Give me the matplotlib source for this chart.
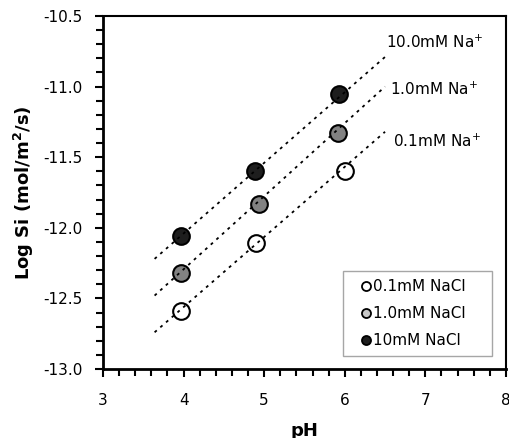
import matplotlib
matplotlib.use("Agg")
import matplotlib.pyplot as plt
from matplotlib.lines import Line2D
from matplotlib.ticker import MultipleLocator, FormatStrFormatter

plt.rcParams["font.family"] = ["DejaVu Sans"]

# measured points (pH, log rate)
ph_01 = [3.97, 4.90, 6.00]
si_01 = [-12.59, -12.11, -11.60]
ph_1 = [3.97, 4.93, 5.92]
si_1 = [-12.32, -11.83, -11.33]
ph_10 = [3.97, 4.88, 5.93]
si_10 = [-12.06, -11.60, -11.05]

# dotted trend lines, end points
fit_x = [3.64, 6.50]
fit_01 = [-12.74, -11.32]
fit_1 = [-12.48, -11.00]
fit_10 = [-12.22, -10.79]

line_labels = ["0.1mM Na$^{+}$", "1.0mM Na$^{+}$", "10.0mM Na$^{+}$"]
legend_labels = ["0.1mM NaCl", "1.0mM NaCl", "10mM NaCl"]

fig = plt.figure(figsize=(5.1, 4.38), dpi=100)
ax = fig.add_axes([0.202, 0.1575, 0.79, 0.806])

for fy in (fit_01, fit_1, fit_10):
    ax.plot(fit_x, fy, color="black", lw=1.3, linestyle=(0, (1.6, 2.6)), zorder=4)

ax.plot(ph_01, si_01, "o", ms=12, mfc="white", mec="black", mew=1.5, zorder=3)
ax.plot(ph_1, si_1, "o", ms=12, mfc="#828282", mec="black", mew=1.5, zorder=3)
ax.plot(ph_10, si_10, "o", ms=12, mfc="#1e1e1e", mec="black", mew=1.5, zorder=3)

ax.text(6.60, -11.39, line_labels[0], fontsize=11, va="center")
ax.text(6.56, -11.02, line_labels[1], fontsize=11, va="center")
ax.text(6.51, -10.69, line_labels[2], fontsize=11, va="center")

ax.set_xlim(3, 8)
ax.set_ylim(-13.0, -10.5)
ax.xaxis.set_major_locator(MultipleLocator(1))
ax.xaxis.set_minor_locator(MultipleLocator(0.2))
ax.yaxis.set_major_locator(MultipleLocator(0.5))
ax.yaxis.set_minor_locator(MultipleLocator(0.1))
ax.yaxis.set_major_formatter(FormatStrFormatter("%.1f"))
ax.tick_params(which="both", direction="out", width=1.5, labelsize=11, color="black")
ax.tick_params(which="major", length=6)
ax.tick_params(which="minor", length=5)
ax.tick_params(axis="x", which="major", pad=11)
ax.tick_params(axis="y", which="major", pad=9)

ax.spines["left"].set_linewidth(2)
ax.spines["bottom"].set_linewidth(2)
ax.spines["top"].set_linewidth(1.5)
ax.spines["right"].set_linewidth(1.5)

ax.set_xlabel("pH", fontsize=13, fontweight="bold", labelpad=10)
ax.set_ylabel("Log Si (mol/m$^{\\mathbf{2}}$/s)", fontsize=13, fontweight="bold", labelpad=5)

handles = [
    Line2D([], [], ls="none", marker="o", ms=6.5, mfc="white", mec="black", mew=1.3),
    Line2D([], [], ls="none", marker="o", ms=6.5, mfc="#c8c8c8", mec="black", mew=1.3),
    Line2D([], [], ls="none", marker="o", ms=6.5, mfc="#1e1e1e", mec="black", mew=1.3),
]
leg = ax.legend(handles, legend_labels, loc="lower left", mode="expand",
                bbox_to_anchor=(0.596, 0.037, 0.37, 0.2),
                fontsize=11, frameon=True, fancybox=False, handlelength=2.0,
                handletextpad=-0.55, labelspacing=0.8, borderpad=0.5, borderaxespad=0)
leg.get_frame().set_edgecolor("#909090")
leg.get_frame().set_linewidth(1.0)

fig.savefig("out.png", dpi=100)
